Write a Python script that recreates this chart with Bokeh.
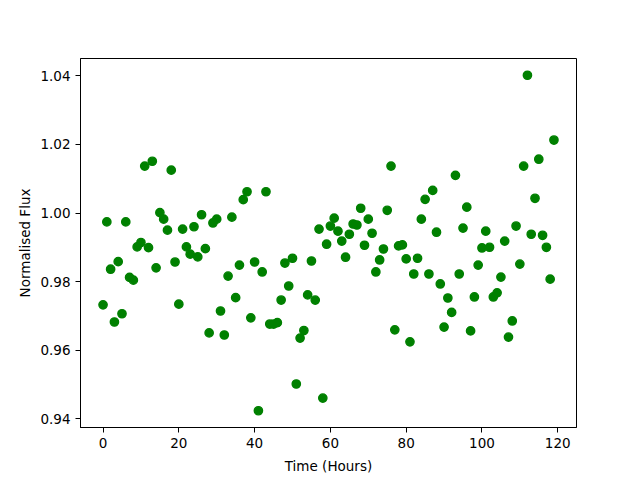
from bokeh.plotting import figure
from bokeh.models import Range1d, FixedTicker, PrintfTickFormatter
from bokeh.embed import file_html
from bokeh.resources import INLINE

time_hours = list(range(120))
flux = [
    0.9732, 0.9974, 0.9836, 0.9682, 0.9858, 0.9706, 0.9974, 0.9812, 0.9804, 0.9901,
    0.9914, 1.0137, 0.9899, 1.0151, 0.9840, 1.0001, 0.9982, 0.9950, 1.0125, 0.9857,
    0.9734, 0.9953, 0.9901, 0.9880, 0.9960, 0.9872, 0.9995, 0.9896, 0.9650, 0.9971,
    0.9982, 0.9714, 0.9644, 0.9816, 0.9988, 0.9753, 0.9848, 1.0039, 1.0062, 0.9694,
    0.9857, 0.9423, 0.9828, 1.0062, 0.9676, 0.9676, 0.9680, 0.9746, 0.9854, 0.9787,
    0.9868, 0.9501, 0.9635, 0.9657, 0.9761, 0.9860, 0.9746, 0.9953, 0.9460, 0.9909,
    0.9962, 0.9985, 0.9947, 0.9918, 0.9871, 0.9938, 0.9968, 0.9965, 1.0014, 0.9906,
    0.9982, 0.9941, 0.9828, 0.9863, 0.9895, 1.0008, 1.0137, 0.9659, 0.9904, 0.9907,
    0.9866, 0.9624, 0.9822, 0.9868, 0.9982, 1.0040, 0.9822, 1.0066, 0.9944, 0.9793,
    0.9667, 0.9752, 0.9710, 1.0110, 0.9822, 0.9956, 1.0017, 0.9656, 0.9755, 0.9848,
    0.9898, 0.9947, 0.9900, 0.9755, 0.9767, 0.9813, 0.9918, 0.9638, 0.9685, 0.9962,
    0.9851, 1.0137, 1.0402, 0.9938, 1.0043, 1.0157, 0.9935, 0.9900, 0.9807, 1.0213,
]
x_ticks = [0, 20, 40, 60, 80, 100, 120]
y_ticks = [0.94, 0.96, 0.98, 1.00, 1.02, 1.04]

xmin, xmax = min(time_hours), max(time_hours)
ymin, ymax = min(flux), max(flux)
xpad = 0.05 * (xmax - xmin)
ypad = 0.05 * (ymax - ymin)

p = figure(
    frame_width=496, frame_height=369,
    min_border_left=80, min_border_right=64, min_border_top=58, min_border_bottom=53,
    x_range=Range1d(xmin - xpad, xmax + xpad),
    y_range=Range1d(ymin - ypad, ymax + ypad),
    output_backend="svg", toolbar_location=None,
)
p.background_fill_color = "white"
p.border_fill_color = "white"
p.outline_line_color = "black"
p.outline_line_width = 1
p.xgrid.visible = False
p.ygrid.visible = False

p.scatter(time_hours, flux, size=8.3, fill_color="#008000", line_color="#008000", line_width=1.4)

font = "DejaVu Sans"
for ax in (p.xaxis[0], p.yaxis[0]):
    ax.axis_line_color = "black"
    ax.major_tick_line_color = "black"
    ax.major_tick_out = 5
    ax.major_tick_in = 0
    ax.minor_tick_line_color = None
    ax.major_label_text_font = font
    ax.major_label_text_font_size = "13.5px"
    ax.major_label_text_color = "black"
    ax.axis_label_text_font = font
    ax.axis_label_text_font_size = "13.5px"
    ax.axis_label_text_font_style = "normal"
    ax.axis_label_text_color = "black"
    ax.major_label_standoff = 5

p.xaxis.ticker = FixedTicker(ticks=x_ticks)
p.yaxis.ticker = FixedTicker(ticks=y_ticks)
p.yaxis.formatter = PrintfTickFormatter(format="%.2f")
p.xaxis.axis_label = "Time (Hours)"
p.yaxis.axis_label = "Normalised Flux"
p.xaxis.axis_label_standoff = 7
p.yaxis.axis_label_standoff = 4

open("out.html", "w").write(file_html(p, INLINE))
